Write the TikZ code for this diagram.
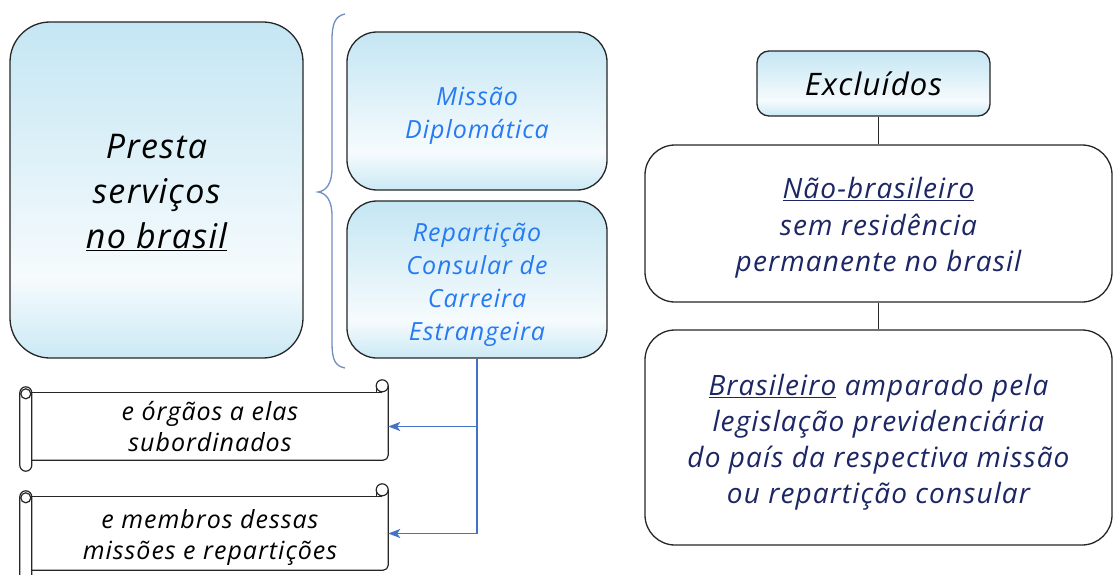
\documentclass[tikz,border=0pt]{standalone}
\usepackage{fontspec}
\setmainfont{Open Sans}[LetterSpace=4]
\usetikzlibrary{arrows.meta,calc}
\definecolor{topblue}{RGB}{196,230,243}
\definecolor{botblue}{RGB}{203,233,245}
\definecolor{paleblue}{RGB}{246,251,253}
\definecolor{txtblue}{RGB}{38,122,242}
\definecolor{navy}{RGB}{28,38,100}
\definecolor{bracecol}{RGB}{112,142,192}
\definecolor{arrcol}{RGB}{68,114,196}
\pgfdeclareverticalshading{boxshade}{100bp}{color(0bp)=(botblue); color(25bp)=(botblue); color(37bp)=(paleblue); color(75bp)=(topblue); color(100bp)=(topblue)}
\newcommand\fs[2]{\fontsize{#1pt}{#2pt}\selectfont}
\newcommand\dn[1]{\raisebox{-4.5pt}[\height][\depth]{\begin{tabular}{@{}c@{}}#1\end{tabular}}}
\begin{document}
\begin{tikzpicture}[x=1pt,y=-1pt,
  gbox/.style={draw=black!85, line width=1.3pt, shading=boxshade, align=center, inner sep=0pt},
  wbox/.style={draw=black!85, line width=1.3pt, fill=white, align=center, inner sep=0pt, rounded corners=30pt},
  scrollbody/.style={inner sep=0pt, align=center},
  scrl/.style={draw=black!85, line width=1.2pt},
  arr/.style={draw=arrcol, line width=1.5pt, -{Stealth[length=12pt,width=9pt,inset=3pt]}},
  conn/.style={draw=black!85, line width=1.3pt}]
\useasboundingbox (0,0) rectangle (1113,575);

% left big box
\node[gbox, rounded corners=40pt, minimum width=293pt, minimum height=336pt,
      font=\itshape\fs{34}{45}] (presta) at (156.5,190)
  {\dn{Presta\\serviços\\\underline{no brasil}}};

% brace
\draw[bracecol, line width=1.3pt]
  (345,14) .. controls (335,16) and (332,24) .. (332,40) -- (332,168)
  .. controls (332,184) and (326,191) .. (318,192)
  .. controls (326,193) and (332,200) .. (332,216) -- (332,342)
  .. controls (332,360) and (335,366) .. (345,368);

% middle boxes
\node[gbox, rounded corners=30pt, minimum width=260pt, minimum height=158pt,
      font=\itshape\fs{25}{33}, text=txtblue] (missao) at (477,111)
  {\dn{Missão\\Diplomática}};
\node[gbox, rounded corners=30pt, minimum width=260pt, minimum height=157pt,
      font=\itshape\fs{25}{33}, text=txtblue] (rep) at (477,279.5)
  {\dn{Repartição\\Consular de\\Carreira\\Estrangeira}};

% scrolls (nodes = scroll body)
\node[scrollbody, minimum width=356pt, minimum height=67pt, font=\itshape\fs{25}{31}] (s1) at (210,426.5)
  {e órgãos a elas\\subordinados};
\node[scrollbody, minimum width=356pt, minimum height=73pt, font=\itshape\fs{25}{31}] (s2) at (210,533.5)
  {\dn{e membros dessas\\missões e repartições}};

\foreach \s in {s1,s2}{
  % body: top edge, right side, bottom edge
  \draw[scrl] ($(\s.north west)+(-6,0)$) -- ($(\s.north east)+(-6,0)$);
  \draw[scrl, rounded corners=5pt] ($(\s.north east)+(0,-7)$) -- (\s.south east) -- (\s.south west);
  % right curl
  \draw[scrl] ($(\s.north east)+(-6,-7)$) circle (6pt);
  \draw[scrl] ($(\s.north east)+(-12,-7)$) -- ($(\s.north east)+(-12,0)$);
  % left roll
  \draw[scrl, fill=white, rounded corners=6pt] ($(\s.north west)+(-12,-6)$) rectangle ($(\s.south west)+(0,11)$);
  \draw[scrl] ($(\s.north west)+(-6,1)$) circle (5pt);
}

% arrows
\draw[arr] (rep.south) |- (s1.east);
\draw[arr] (rep.south) |- (s2.east);

% right column
\node[gbox, rounded corners=12pt, minimum width=233pt, minimum height=65pt,
      font=\itshape\fs{31}{36}] (exc) at (873.5,83.5) {Excluídos};
\node[wbox, minimum width=467pt, minimum height=157pt,
      font=\itshape\fs{28}{36.5}, text=navy] (nb) at (878.5,223.5)
  {\dn{\underline{Não-brasileiro}\\sem residência\\permanente no brasil}};
\node[wbox, minimum width=467pt, minimum height=215pt,
      font=\itshape\fs{28}{36}, text=navy] (br) at (878.5,437.5)
  {\dn{\underline{Brasileiro} amparado pela\\legislação previdenciária\\do país da respectiva missão\\ou repartição consular}};

\draw[conn] (nb.north) -- (nb.north |- exc.south);
\draw[conn] (nb.south) -- (br.north);
\end{tikzpicture}
\end{document}
